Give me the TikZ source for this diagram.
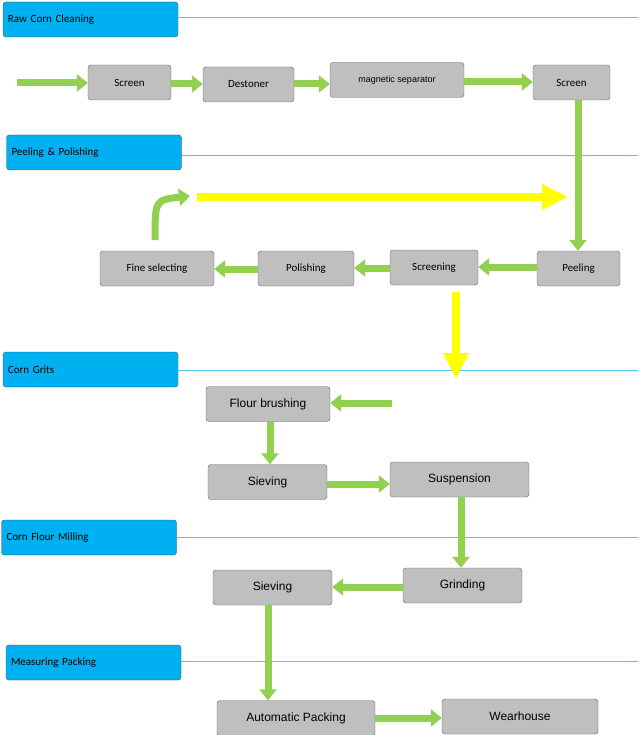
\documentclass[tikz,border=0pt]{standalone}
\usepackage{fontspec}
\setmainfont{Carlito}
\newfontfamily\arialfont{Liberation Sans}
\usetikzlibrary{arrows.meta,positioning}
\definecolor{hdrblue}{HTML}{00B0F0}
\definecolor{boxgray}{HTML}{BFBFBF}
\definecolor{arrgreen}{HTML}{92D050}
\definecolor{arryellow}{HTML}{FFFF00}
\begin{document}
\begin{tikzpicture}[x=1pt,y=-1pt,
	hdr/.style = {draw=black!70, fill=hdrblue, rounded corners=3pt, minimum width=175pt, minimum height=35pt, text width=165pt, align=left, font=\fontsize{11}{13}\selectfont},
	main/.style = {draw=black!60, fill=boxgray, rounded corners=3pt, minimum height=35pt, font=\fontsize{11}{13}\selectfont},
	low/.style = {main, font=\arialfont\fontsize{12}{14}\selectfont},
	rule/.style = {draw=hdrblue!70, line width=0.6pt},
	garrow/.style = {draw=arrgreen!70!black, line width=7pt, arrgreen, -{Triangle[length=11pt,width=17pt]}},
	yarrow/.style = {arryellow, line width=8pt, -{Triangle[length=26pt,width=24pt]}}]
	\useasboundingbox (0,0) rectangle (641,735);
	% section headers
	\node[hdr] (h1) at (90.5,19.5) {Raw Corn Cleaning};
	\node[hdr] (h2) at (94,152.5) {Peeling \& Polishing};
	\node[hdr] (h3) at (90.5,369.5) {Corn Grits};
	\node[hdr] (h4) at (89,537.5) {Corn Flour Milling};
	\node[hdr] (h5) at (93.5,662.5) {Measuring Packing};
	\draw[rule] (h1.east |- 0,17) -- (638,17);
	\draw[rule] (h2.east |- 0,155) -- (638,155);
	\draw[rule] (h3.east |- 0,370) -- (638,370);
	\draw[rule] (h4.east |- 0,537) -- (638,537);
	\draw[rule] (h5.east |- 0,661) -- (638,661);
	% raw corn cleaning
	\node[main, minimum width=83pt] (scr1) at (129.5,82.5) {Screen};
	\node[main, minimum width=91pt] (dest) at (248.5,84.5) {Destoner};
	\node[main, minimum width=134pt, font=\arialfont\fontsize{9}{11}\selectfont] (mag) at (397,80) {magnetic separator};
	\node[main, minimum width=77pt] (scr2) at (571.5,82.5) {Screen};
	% peeling and polishing
	\node[main, minimum width=83pt] (peel) at (578.5,268.5) {Peeling};
	\node[main, minimum width=88pt] (scrn) at (434,267.5) {Screening};
	\node[main, minimum width=96pt] (pol) at (306,268.5) {Polishing};
	\node[main, minimum width=114pt] (fine) at (157,268.5) {Fine selecting};
	% corn grits
	\node[low, minimum width=124pt] (brush) at (268,404) {Flour brushing};
	\node[low, minimum width=119pt] (siev1) at (267.5,482) {Sieving};
	\node[low, minimum width=139pt] (susp) at (459.5,479.5) {Suspension};
	% corn flour milling
	\node[low, minimum width=119pt] (grind) at (462.5,585.5) {Grinding};
	\node[low, minimum width=119pt] (siev2) at (272.5,587.5) {Sieving};
	% measuring packing
	\node[low, minimum width=158pt] (pack) at (296,718) {Automatic Packing};
	\node[low, minimum width=156pt] (ware) at (520,716.5) {Wearhouse};
	% free ends
	\coordinate (in) at (17,83);
	\coordinate (c1) at (155,240);
	\coordinate (c2) at (190,196);
	\coordinate (y1) at (197,197);
	\coordinate (y2) at (568,197);
	\coordinate (y3) at (456,292);
	\coordinate (y4) at (456,379);
	\coordinate (b1) at (392,403);
	% arrows
	\draw[garrow] (in) -- (scr1.west |- in);
	\draw[garrow] (scr1.east |- 0,84) -- (dest.west |- 0,84);
	\draw[garrow] (dest.east |- 0,84) -- (mag.west |- 0,84);
	\draw[garrow] (mag.east |- 0,82) -- (scr2.west |- 0,82);
	\draw[garrow] (scr2.south -| 578,0) -- (peel.north -| 578,0);
	\draw[garrow] (peel.west |- 0,267) -- (scrn.east |- 0,267);
	\draw[garrow] (scrn.west |- 0,268) -- (pol.east |- 0,268);
	\draw[garrow] (pol.west |- 0,269) -- (fine.east |- 0,269);
	\draw[garrow] (c1) .. controls (155,200) .. (c2);
	\draw[yarrow] (y1) -- (y2);
	\draw[yarrow] (y3) -- (y4);
	\draw[garrow] (b1) -- (brush.east |- b1);
	\draw[garrow] (brush.south -| 270,0) -- (siev1.north -| 270,0);
	\draw[garrow] (siev1.east |- 0,484) -- (susp.west |- 0,484);
	\draw[garrow] (susp.south -| 461,0) -- (grind.north -| 461,0);
	\draw[garrow] (grind.west |- 0,587) -- (siev2.east |- 0,587);
	\draw[garrow] (siev2.south -| 268,0) -- (pack.north -| 268,0);
	\draw[garrow] (pack.east |- 0,718) -- (ware.west |- 0,718);
\end{tikzpicture}
\end{document}
